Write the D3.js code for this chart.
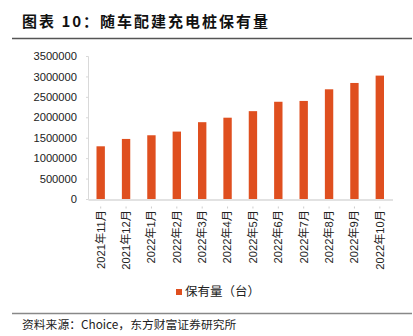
<!DOCTYPE html>
<html><head><meta charset="utf-8">
<script src="https://cdn.jsdelivr.net/npm/d3@7"></script>
<style>body{margin:0;background:#fff}svg{display:block}</style>
</head><body>
<script>
const categories = ["2021年11月","2021年12月","2022年1月","2022年2月","2022年3月","2022年4月","2022年5月","2022年6月","2022年7月","2022年8月","2022年9月","2022年10月"];
const values = [1290000,1470000,1560000,1650000,1880000,1990000,2150000,2380000,2400000,2685000,2840000,3020000];
const yTicks = [0,500000,1000000,1500000,2000000,2500000,3000000,3500000];
const title = "图表 10：随车配建充电桩保有量";
const seriesName = "保有量（台）";
const source = "资料来源：Choice，东方财富证券研究所";

const W = 413, H = 336;
const svg = d3.select("body").append("svg").attr("width", W).attr("height", H);
const latin = "'Liberation Sans', Arial, 'Noto Sans CJK SC', sans-serif";
const cjk = "'Noto Sans CJK SC', sans-serif";

svg.append("text").attr("x", 22).attr("y", 27).attr("font-family", cjk)
  .attr("font-size", 15).attr("font-weight", "bold").attr("letter-spacing", 2)
  .attr("fill", "#111").text(title);
svg.append("line").attr("x1", 12).attr("x2", 412).attr("y1", 38.5).attr("y2", 38.5)
  .attr("stroke", "#555").attr("stroke-width", 1.5);

const x = d3.scaleBand().domain(categories).range([88, 392.5]).paddingInner(0.67).paddingOuter(0.335);
const y = d3.scaleLinear().domain([0, 3500000]).range([199, 56]);

const yAxis = d3.axisLeft(y).tickValues(yTicks).tickSize(2).tickPadding(9).tickFormat(d3.format("d"));
const gy = svg.append("g").attr("transform", "translate(88,0)").call(yAxis);
gy.select(".domain").attr("stroke", "#d9d9d9");
gy.selectAll(".tick line").attr("stroke", "#d9d9d9");
gy.selectAll("text").attr("font-family", latin).attr("font-size", 11.2).attr("fill", "#222");

svg.append("g").selectAll("rect").data(values).join("rect")
  .attr("x", (d, i) => x(categories[i])).attr("width", x.bandwidth())
  .attr("y", d => y(d)).attr("height", d => y(0) - y(d))
  .attr("fill", "#DF4F1F");

const xAxis = d3.axisBottom(x).tickSize(0).tickPadding(0);
const gx = svg.append("g").attr("transform", "translate(0,199.5)").call(xAxis);
gx.select(".domain").attr("stroke", "#d9d9d9").attr("stroke-width", 1.3);
gx.selectAll(".tick text")
  .attr("transform", "translate(0,10.5) rotate(-90)")
  .attr("text-anchor", "end").attr("dy", "0.35em").attr("x", 0).attr("y", 0)
  .attr("font-family", latin).attr("font-size", 11.2).attr("fill", "#222");
gx.selectAll(".tick").append("line").attr("y1", 7).attr("y2", 9).attr("stroke", "#ccc");

const lg = svg.append("g").attr("transform", "translate(176,289)");
lg.append("rect").attr("width", 6).attr("height", 6).attr("fill", "#DF4F1F");
lg.append("text").attr("x", 9).attr("y", 7).attr("font-family", cjk).attr("font-size", 12.5)
  .attr("fill", "#222").text(seriesName);

svg.append("line").attr("x1", 12).attr("x2", 412).attr("y1", 313.5).attr("y2", 313.5)
  .attr("stroke", "#888").attr("stroke-width", 1.3);
svg.append("text").attr("x", 22).attr("y", 329).attr("font-family", cjk)
  .attr("font-size", 11.8).attr("fill", "#222").text(source);
</script>
</body></html>
